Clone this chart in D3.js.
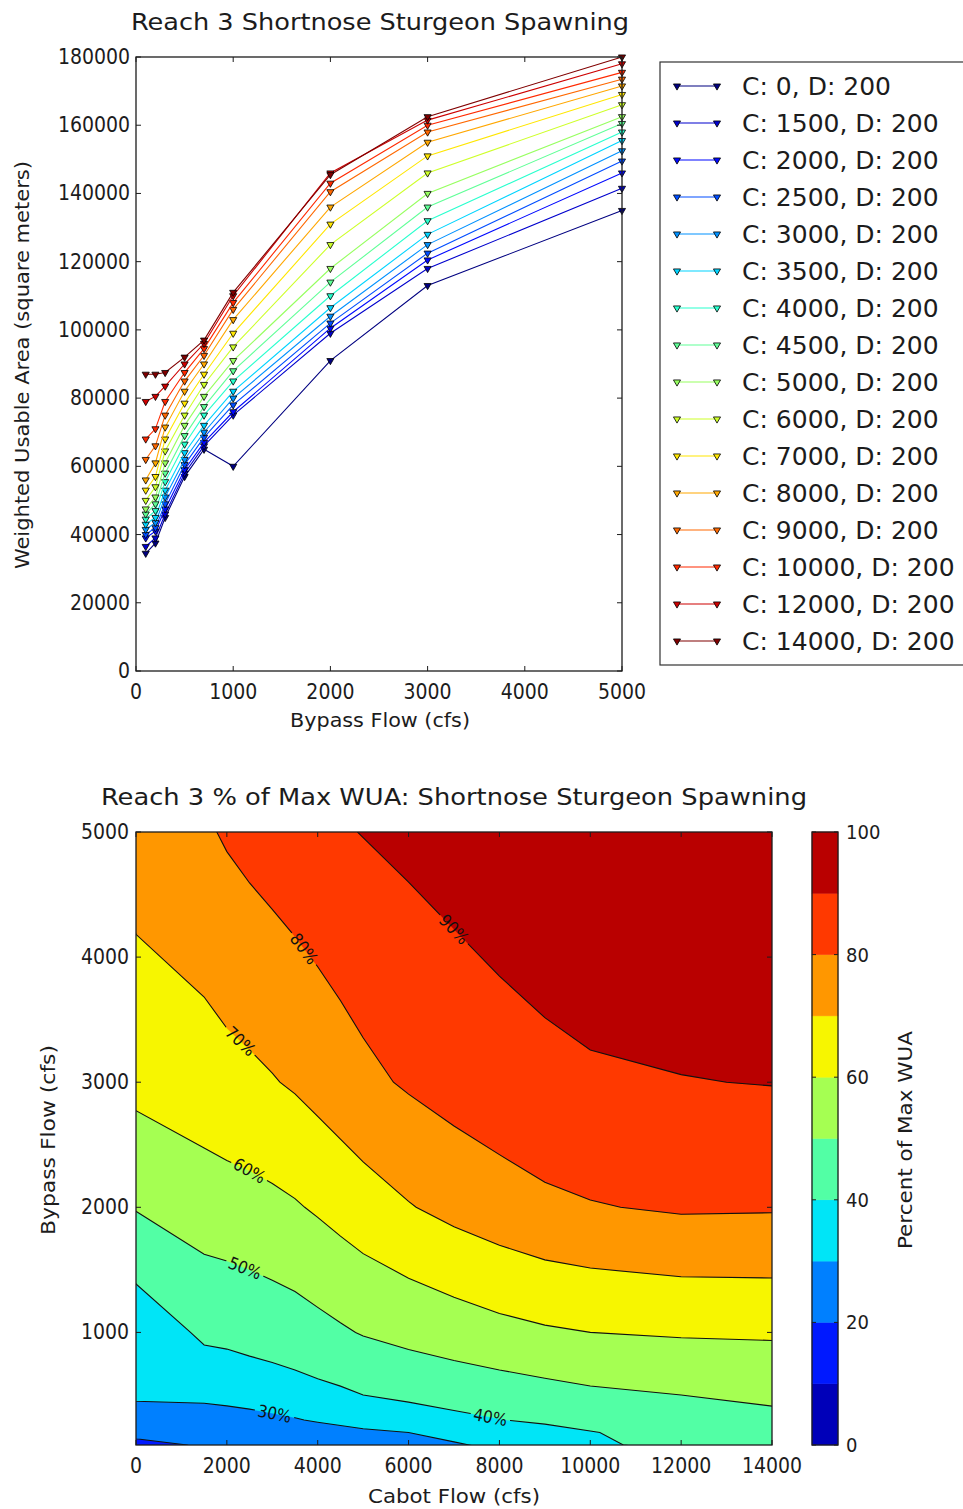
<!DOCTYPE html>
<html><head><meta charset="utf-8">
<script src="https://cdn.jsdelivr.net/npm/d3@7"></script>
<style>
body{margin:0;background:#fff;}
</style></head><body>
<svg id="chart" width="963" height="1509" xmlns="http://www.w3.org/2000/svg"></svg>
<script>
// ---------------- data ----------------
const bypassFlows = [100, 200, 300, 500, 700, 1000, 2000, 3000, 5000];
const cabotFlows = [0, 1500, 2000, 2500, 3000, 3500, 4000, 4500, 5000, 6000, 7000, 8000, 9000, 10000, 12000, 14000];
const downstreamFlow = 200;
// Weighted usable area (square meters) at each bypass flow, one array per Cabot flow
const wuaC0     = [34500, 37500, 45000, 57000, 65000, 60000,  91000, 113000, 135000];
const wuaC1500  = [36500, 39000, 46000, 58000, 66000, 75000,  99000, 118000, 141500];
const wuaC2000  = [39000, 41000, 47500, 59000, 67000, 76000, 100500, 120500, 146000];
const wuaC2500  = [40000, 42000, 49000, 60500, 68500, 78000, 102000, 122500, 149500];
const wuaC3000  = [41500, 43500, 51000, 62000, 70000, 80000, 104000, 125000, 152500];
const wuaC3500  = [43000, 45000, 53000, 64000, 72000, 82000, 106500, 128000, 155500];
const wuaC4000  = [44500, 47000, 55500, 66500, 75000, 85000, 110000, 132000, 158000];
const wuaC4500  = [46000, 49000, 58000, 69000, 77500, 88000, 114000, 136000, 160500];
const wuaC5000  = [47500, 51000, 61000, 72000, 80500, 91000, 118000, 140000, 162500];
const wuaC6000  = [50000, 54000, 64500, 75000, 84000, 95000, 125000, 146000, 166000];
const wuaC7000  = [53000, 57000, 68000, 78500, 87000, 99000, 131000, 151000, 169000];
const wuaC8000  = [56000, 61000, 71500, 82000, 90000, 103000, 136000, 155000, 171500];
const wuaC9000  = [62000, 66000, 75000, 85000, 92500, 106000, 140500, 158000, 173500];
const wuaC10000 = [68000, 71000, 79000, 87500, 94500, 108000, 143000, 160000, 175500];
const wuaC12000 = [79000, 80500, 83500, 90000, 96000, 110000, 146000, 161500, 178000];
const wuaC14000 = [87000, 87000, 87500, 92000, 97000, 111000, 145500, 162500, 180000];
const wuaSeries = [wuaC0, wuaC1500, wuaC2000, wuaC2500, wuaC3000, wuaC3500, wuaC4000, wuaC4500,
  wuaC5000, wuaC6000, wuaC7000, wuaC8000, wuaC9000, wuaC10000, wuaC12000, wuaC14000];

const yTicksTop = [0, 20000, 40000, 60000, 80000, 100000, 120000, 140000, 160000, 180000];
const xTicksTop = [0, 1000, 2000, 3000, 4000, 5000];
const xTicksBottom = [0, 2000, 4000, 6000, 8000, 10000, 12000, 14000];
const yTicksBottom = [1000, 2000, 3000, 4000, 5000];
const contourLevels = [0, 10, 20, 30, 40, 50, 60, 70, 80, 90, 100];
const cbarTicks = [0, 20, 40, 60, 80, 100];
const labelLevels = [30, 40, 50, 60, 70, 80, 90];
const labelCabot  = [3050, 7800, 2400, 2500, 2300, 3700, 7000];

const topTitle = "Reach 3 Shortnose Sturgeon Spawning";
const topYLabel = "Weighted Usable Area (square meters)";
const topXLabel = "Bypass Flow (cfs)";
const botTitle = "Reach 3 % of Max WUA: Shortnose Sturgeon Spawning";
const botXLabel = "Cabot Flow (cfs)";
const botYLabel = "Bypass Flow (cfs)";
const cbarLabel = "Percent of Max WUA";

// ---------------- helpers ----------------
function jet(t){
  t = Math.max(0, Math.min(1, t));
  const seg = pts => { for (let k = 0; k < pts.length - 1; k++) { const [x0,y0] = pts[k], [x1,y1] = pts[k+1]; if (t <= x1) return y0 + (y1-y0)*(t-x0)/(x1-x0); } return pts[pts.length-1][1]; };
  const r = seg([[0,0],[0.35,0],[0.66,1],[0.89,1],[1,0.5]]);
  const g = seg([[0,0],[0.125,0],[0.375,1],[0.64,1],[0.91,0],[1,0]]);
  const b = seg([[0,0.5],[0.11,1],[0.34,1],[0.65,0],[1,0]]);
  return d3.rgb(r*255, g*255, b*255).formatHex();
}
const svg = d3.select('#chart');
svg.append('rect').attr('width', 963).attr('height', 1509).attr('fill', '#fff');
const INK = '#1c1c1c';
const COND = '"DejaVu Sans Condensed","DejaVu Sans",sans-serif';
const REG = '"DejaVu Sans",sans-serif';
function txt(g, s, x, y, o = {}) {
  const t = g.append('text').attr('x', x).attr('y', y).text(s)
    .attr('font-size', o.size || 21).attr('text-anchor', o.anchor || 'middle').attr('fill', o.fill || INK)
    .style('font-family', o.family || COND);
  if (o.len) t.attr('textLength', o.len).attr('lengthAdjust', 'spacingAndGlyphs');
  if (o.rotate != null) t.attr('transform', `rotate(${o.rotate},${x},${y})`);
  if (o.baseline) t.attr('dominant-baseline', o.baseline);
  return t;
}
function inwardTicks(g, scale, vals, orient, x0, x1, y0, y1, len = 5) {
  vals.forEach(v => {
    const p = scale(v);
    if (orient === 'x') {
      g.append('line').attr('x1', p).attr('x2', p).attr('y1', y1).attr('y2', y1 - len).attr('stroke', INK);
      g.append('line').attr('x1', p).attr('x2', p).attr('y1', y0).attr('y2', y0 + len).attr('stroke', INK);
    } else {
      g.append('line').attr('y1', p).attr('y2', p).attr('x1', x0).attr('x2', x0 + len).attr('stroke', INK);
      g.append('line').attr('y1', p).attr('y2', p).attr('x1', x1).attr('x2', x1 - len).attr('stroke', INK);
    }
  });
}

// ---------------- top chart ----------------
const T = {l: 136, r: 622, t: 57, b: 671};
const xT = d3.scaleLinear().domain([0, 5000]).range([T.l, T.r]);
const yT = d3.scaleLinear().domain([0, 180000]).range([T.b, T.t]);
const gT = svg.append('g');
const seriesColor = i => jet(i / (wuaSeries.length - 1));
const tri = d3.symbol().type(d3.symbolTriangle).size(22);
const line = d3.line().x((d, k) => xT(bypassFlows[k])).y(d => yT(d));

gT.append('rect').attr('x', T.l).attr('y', T.t).attr('width', T.r - T.l).attr('height', T.b - T.t).attr('fill', '#fff');
wuaSeries.forEach((s, i) => {
  const g = gT.append('g');
  g.append('path').attr('d', line(s)).attr('fill', 'none').attr('stroke', seriesColor(i)).attr('stroke-width', 1.1);
  g.selectAll('path.m').data(s).enter().append('path').attr('class', 'm')
    .attr('d', tri).attr('transform', (d, k) => `translate(${xT(bypassFlows[k])},${yT(d)}) rotate(180)`)
    .attr('fill', seriesColor(i)).attr('stroke', '#000').attr('stroke-width', 0.8);
});
gT.append('rect').attr('x', T.l).attr('y', T.t).attr('width', T.r - T.l).attr('height', T.b - T.t)
  .attr('fill', 'none').attr('stroke', INK).attr('stroke-width', 1.3);
inwardTicks(gT, xT, xTicksTop, 'x', T.l, T.r, T.t, T.b);
inwardTicks(gT, yT, yTicksTop, 'y', T.l, T.r, T.t, T.b);
yTicksTop.forEach(v => txt(gT, String(v), T.l - 6, yT(v), {anchor: 'end', baseline: 'central'}));
xTicksTop.forEach(v => txt(gT, String(v), xT(v), 699));
txt(gT, topTitle, 380, 30, {size: 23, len: 498});
txt(gT, topXLabel, 380, 727, {size: 20, len: 180});
txt(gT, topYLabel, 29, 365, {size: 20, len: 408, rotate: -90});

// legend
const L = {x: 660, y: 62, w: 330, h: 603};
const gL = svg.append('g');
gL.append('rect').attr('x', L.x).attr('y', L.y).attr('width', L.w).attr('height', L.h)
  .attr('fill', '#fff').attr('stroke', '#333').attr('stroke-width', 1.2);
cabotFlows.forEach((c, i) => {
  const yy = 86 + i * 37;
  gL.append('line').attr('x1', 677).attr('x2', 717).attr('y1', yy).attr('y2', yy).attr('stroke', seriesColor(i)).attr('stroke-width', 1.2);
  [677, 717].forEach(xx => gL.append('path').attr('d', tri).attr('transform', `translate(${xx},${yy}) rotate(180)`)
    .attr('fill', seriesColor(i)).attr('stroke', '#000').attr('stroke-width', 0.8));
  txt(gL, `C: ${c}, D: ${downstreamFlow}`, 742, yy + 9, {anchor: 'start', size: 25, family: REG});
});

// ---------------- bottom contour chart ----------------
const B = {l: 136, r: 772, t: 832, b: 1445};
const xB = d3.scaleLinear().domain([0, 14000]).range([B.l, B.r]);
const yB = d3.scaleLinear().domain([100, 5000]).range([B.b, B.t]);
const gB = svg.append('g');
const defs = svg.append('defs');
defs.append('clipPath').attr('id', 'plotclip').append('rect')
  .attr('x', B.l).attr('y', B.t).attr('width', B.r - B.l).attr('height', B.b - B.t);

const nx = cabotFlows.length, ny = bypassFlows.length;
const maxWua = d3.max(wuaSeries.flat());
const grid = new Array(nx * ny);
for (let j = 0; j < ny; j++) for (let i = 0; i < nx; i++) grid[j * nx + i] = wuaSeries[i][j] / maxWua * 100;
function idxToVal(arr, f) {
  const n = arr.length; let k = Math.floor(f); k = Math.max(0, Math.min(n - 2, k));
  return arr[k] + (arr[k + 1] - arr[k]) * (f - k);
}
const project = (u, v) => [xB(idxToVal(cabotFlows, u - 0.5)), yB(idxToVal(bypassFlows, v - 0.5))];
const geo = d3.geoPath(d3.geoTransform({point(x, y) { const p = project(x, y); this.stream.point(p[0], p[1]); }}));
const fillLevels = contourLevels.slice(0, -1);
const cont = d3.contours().size([nx, ny]).thresholds(fillLevels)(grid);

const gFill = gB.append('g').attr('clip-path', 'url(#plotclip)');
cont.forEach(c => {
  gFill.append('path').attr('d', geo(c)).attr('fill', jet((c.value + 5) / 100)).attr('stroke', jet((c.value + 5) / 100)).attr('stroke-width', 0.3);
});

// label placement along contours
const labels = [];
labelLevels.forEach((lev, li) => {
  const c = cont.find(d => d.value === lev);
  if (!c) return;
  const tx = xB(labelCabot[li]);
  let best = null;
  c.coordinates.forEach(poly => poly.forEach(ring => {
    const pts = ring.map(p => project(p[0], p[1]));
    for (let k = 0; k < pts.length - 1; k++) {
      const a = pts[k], b = pts[k + 1];
      const inside = p => p[0] > B.l + 2 && p[0] < B.r - 2 && p[1] > B.t + 2 && p[1] < B.b - 1;
      if (!inside(a) || !inside(b)) continue;
      if ((a[0] - tx) * (b[0] - tx) <= 0 && a[0] !== b[0]) {
        const f = (tx - a[0]) / (b[0] - a[0]);
        const y = a[1] + f * (b[1] - a[1]);
        let ang = Math.atan2(b[1] - a[1], b[0] - a[0]) * 180 / Math.PI;
        if (ang > 90) ang -= 180; if (ang < -90) ang += 180;
        if (!best) best = {x: tx, y, ang};
      }
    }
  }));
  if (best) labels.push({lev, ...best});
});

const mask = defs.append('mask').attr('id', 'lblmask').attr('maskUnits', 'userSpaceOnUse')
  .attr('x', 0).attr('y', 0).attr('width', 963).attr('height', 1509);
mask.append('rect').attr('x', 0).attr('y', 0).attr('width', 963).attr('height', 1509).attr('fill', '#fff');
labels.forEach(l => mask.append('rect').attr('x', -20).attr('y', -8).attr('width', 40).attr('height', 16)
  .attr('fill', '#000').attr('transform', `translate(${l.x},${l.y}) rotate(${l.ang})`));

const gLines = gB.append('g').attr('clip-path', 'url(#plotclip)').append('g').attr('mask', 'url(#lblmask)');
cont.filter(c => c.value > 0).forEach(c => {
  gLines.append('path').attr('d', geo(c)).attr('fill', 'none').attr('stroke', '#111').attr('stroke-width', 1.1);
});
labels.forEach(l => {
  gB.append('text').attr('transform', `translate(${l.x},${l.y}) rotate(${l.ang})`)
    .attr('text-anchor', 'middle').attr('dominant-baseline', 'central').attr('font-size', 17)
    .style('font-family', COND).attr('fill', '#111').text(`${l.lev}%`);
});

gB.append('rect').attr('x', B.l).attr('y', B.t).attr('width', B.r - B.l).attr('height', B.b - B.t)
  .attr('fill', 'none').attr('stroke', INK).attr('stroke-width', 1.3);
inwardTicks(gB, xB, xTicksBottom, 'x', B.l, B.r, B.t, B.b);
inwardTicks(gB, yB, yTicksBottom, 'y', B.l, B.r, B.t, B.b);
xTicksBottom.forEach(v => txt(gB, String(v), xB(v), 1473));
yTicksBottom.forEach(v => txt(gB, String(v), B.l - 7, yB(v), {anchor: 'end', baseline: 'central'}));
txt(gB, botTitle, 454, 805, {size: 23, len: 706});
txt(gB, botXLabel, 454, 1503, {size: 20, len: 172});
txt(gB, botYLabel, 55, 1140, {size: 20, len: 190, rotate: -90});

// colorbar
const CB = {l: 812, r: 838};
const yC = d3.scaleLinear().domain([0, 100]).range([B.b, B.t]);
const gC = svg.append('g');
fillLevels.forEach((lev, k) => {
  const hi = contourLevels[k + 1];
  gC.append('rect').attr('x', CB.l).attr('y', yC(hi)).attr('width', CB.r - CB.l).attr('height', yC(lev) - yC(hi))
    .attr('fill', jet((lev + 5) / 100)).attr('stroke', jet((lev + 5) / 100)).attr('stroke-width', 0.5);
});
gC.append('rect').attr('x', CB.l).attr('y', B.t).attr('width', CB.r - CB.l).attr('height', B.b - B.t)
  .attr('fill', 'none').attr('stroke', INK).attr('stroke-width', 1.3);
cbarTicks.forEach(v => {
  gC.append('line').attr('x1', CB.r).attr('x2', CB.r - 4).attr('y1', yC(v)).attr('y2', yC(v)).attr('stroke', INK);
  gC.append('line').attr('x1', CB.l).attr('x2', CB.l + 4).attr('y1', yC(v)).attr('y2', yC(v)).attr('stroke', INK);
  txt(gC, String(v), 846, yC(v), {anchor: 'start', baseline: 'central', size: 20});
});
txt(gC, cbarLabel, 912, 1140, {size: 20, len: 218, rotate: -90});
</script>
</body></html>
